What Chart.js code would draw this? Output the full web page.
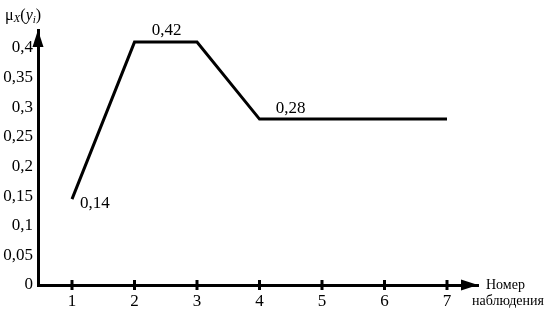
<!DOCTYPE html>
<html>
<head>
<meta charset="utf-8">
<script src="https://cdn.jsdelivr.net/npm/chart.js@4/dist/chart.umd.min.js"></script>
<style>
  html, body { margin: 0; padding: 0; background: #fff; }
  #wrap { width: 548px; height: 313px; }
</style>
</head>
<body>
<div id="wrap"><canvas id="myChart" width="548" height="313"></canvas></div>
<script>
// observations and membership values (as drawn in the picture)
var observations = [1, 2, 3, 4, 5, 6, 7];
var muValues = [0.145, 0.41, 0.41, 0.28, 0.28, 0.28, 0.28];
var yTicks = [0, 0.05, 0.1, 0.15, 0.2, 0.25, 0.3, 0.35, 0.4];
var xTicks = [1, 2, 3, 4, 5, 6, 7];
// value labels written next to some points
var labelTexts = ['0,14', '0,42', '0,28'];
var labelIndex = [0, 1, 3];
var labelOffsets = [[8, 4, 'left'], [32, -12, 'center'], [31, -11, 'center']];

var serif = '"Liberation Serif", "DejaVu Serif", serif';

function fmt(v) {
  return String(v).replace('.', ',');
}

var extras = {
  id: 'extras',
  afterDraw: function(chart) {
    var ctx = chart.ctx;
    var xs = chart.scales.x, ys = chart.scales.y;
    var area = chart.chartArea;
    ctx.save();
    ctx.fillStyle = '#000';
    ctx.strokeStyle = '#000';

    // arrow heads
    ctx.beginPath();
    ctx.moveTo(area.left, area.top);
    ctx.lineTo(area.left - 5.5, area.top + 17);
    ctx.lineTo(area.left + 5.5, area.top + 17);
    ctx.closePath();
    ctx.fill();
    ctx.beginPath();
    ctx.moveTo(area.right, area.bottom);
    ctx.lineTo(area.right - 17, area.bottom - 5.5);
    ctx.lineTo(area.right - 17, area.bottom + 5.5);
    ctx.closePath();
    ctx.fill();

    // x tick marks crossing the axis
    ctx.lineWidth = 3;
    xTicks.forEach(function(t) {
      var px = xs.getPixelForValue(t);
      ctx.beginPath();
      ctx.moveTo(px, area.bottom - 5);
      ctx.lineTo(px, area.bottom + 5);
      ctx.stroke();
    });

    // value labels
    ctx.font = '17px ' + serif;
    ctx.textBaseline = 'middle';
    labelIndex.forEach(function(idx, k) {
      var px = xs.getPixelForValue(observations[idx]);
      var py = ys.getPixelForValue(muValues[idx]);
      var off = labelOffsets[k];
      ctx.textAlign = off[2];
      ctx.fillText(labelTexts[k], px + off[0], py + off[1]);
    });

    // axis titles
    ctx.textAlign = 'left';
    ctx.textBaseline = 'alphabetic';
    ctx.font = '14px ' + serif;
    ctx.fillText('Номер', 486, 289);
    ctx.fillText('наблюдения', 472, 305);

    var x = 5, base = 20;
    ctx.font = '16px ' + serif;
    ctx.fillText('μ', x, base); x += ctx.measureText('μ').width;
    ctx.font = 'italic 11px ' + serif;
    ctx.fillText('X', x, base + 2); x += ctx.measureText('X').width;
    ctx.font = '16px ' + serif;
    ctx.fillText('(', x, base); x += ctx.measureText('(').width;
    ctx.font = 'italic 16px ' + serif;
    ctx.fillText('y', x, base); x += ctx.measureText('y').width;
    ctx.font = 'italic 11px ' + serif;
    ctx.fillText('i', x, base + 3); x += ctx.measureText('i').width;
    ctx.font = '16px ' + serif;
    ctx.fillText(')', x, base);
    ctx.restore();
  }
};

var ctx = document.getElementById('myChart').getContext('2d');
var chart = new Chart(ctx, {
  type: 'line',
  data: {
    datasets: [{
      data: observations.map(function(o, i) { return { x: o, y: muValues[i] }; }),
      borderColor: '#000',
      borderWidth: 3,
      pointRadius: 0,
      tension: 0,
      borderJoinStyle: 'miter'
    }]
  },
  options: {
    responsive: false,
    animation: false,
    layout: { padding: { top: 30, right: 70, left: 0, bottom: 0 } },
    plugins: { legend: { display: false }, tooltip: { enabled: false } },
    scales: {
      x: {
        type: 'linear',
        min: 0.456,
        max: 7.496,
        afterBuildTicks: function(axis) {
          axis.ticks = xTicks.map(function(v) { return { value: v }; });
        },
        afterFit: function(axis) { axis.height = 28; },
        grid: { display: false, drawTicks: false },
        border: { display: true, color: '#000', width: 3 },
        ticks: {
          color: '#000',
          padding: 6,
          font: { family: serif, size: 17 },
          maxRotation: 0,
          autoSkip: false
        }
      },
      y: {
        min: 0,
        max: 0.4304,
        afterBuildTicks: function(axis) {
          axis.ticks = yTicks.map(function(v) { return { value: v }; });
        },
        afterFit: function(axis) { axis.width = 38; },
        grid: { display: false, drawTicks: false },
        border: { display: true, color: '#000', width: 3 },
        ticks: {
          color: '#000',
          padding: 5,
          font: { family: serif, size: 17 },
          callback: function(v) { return fmt(v); }
        }
      }
    }
  },
  plugins: [extras]
});
</script>
</body>
</html>
